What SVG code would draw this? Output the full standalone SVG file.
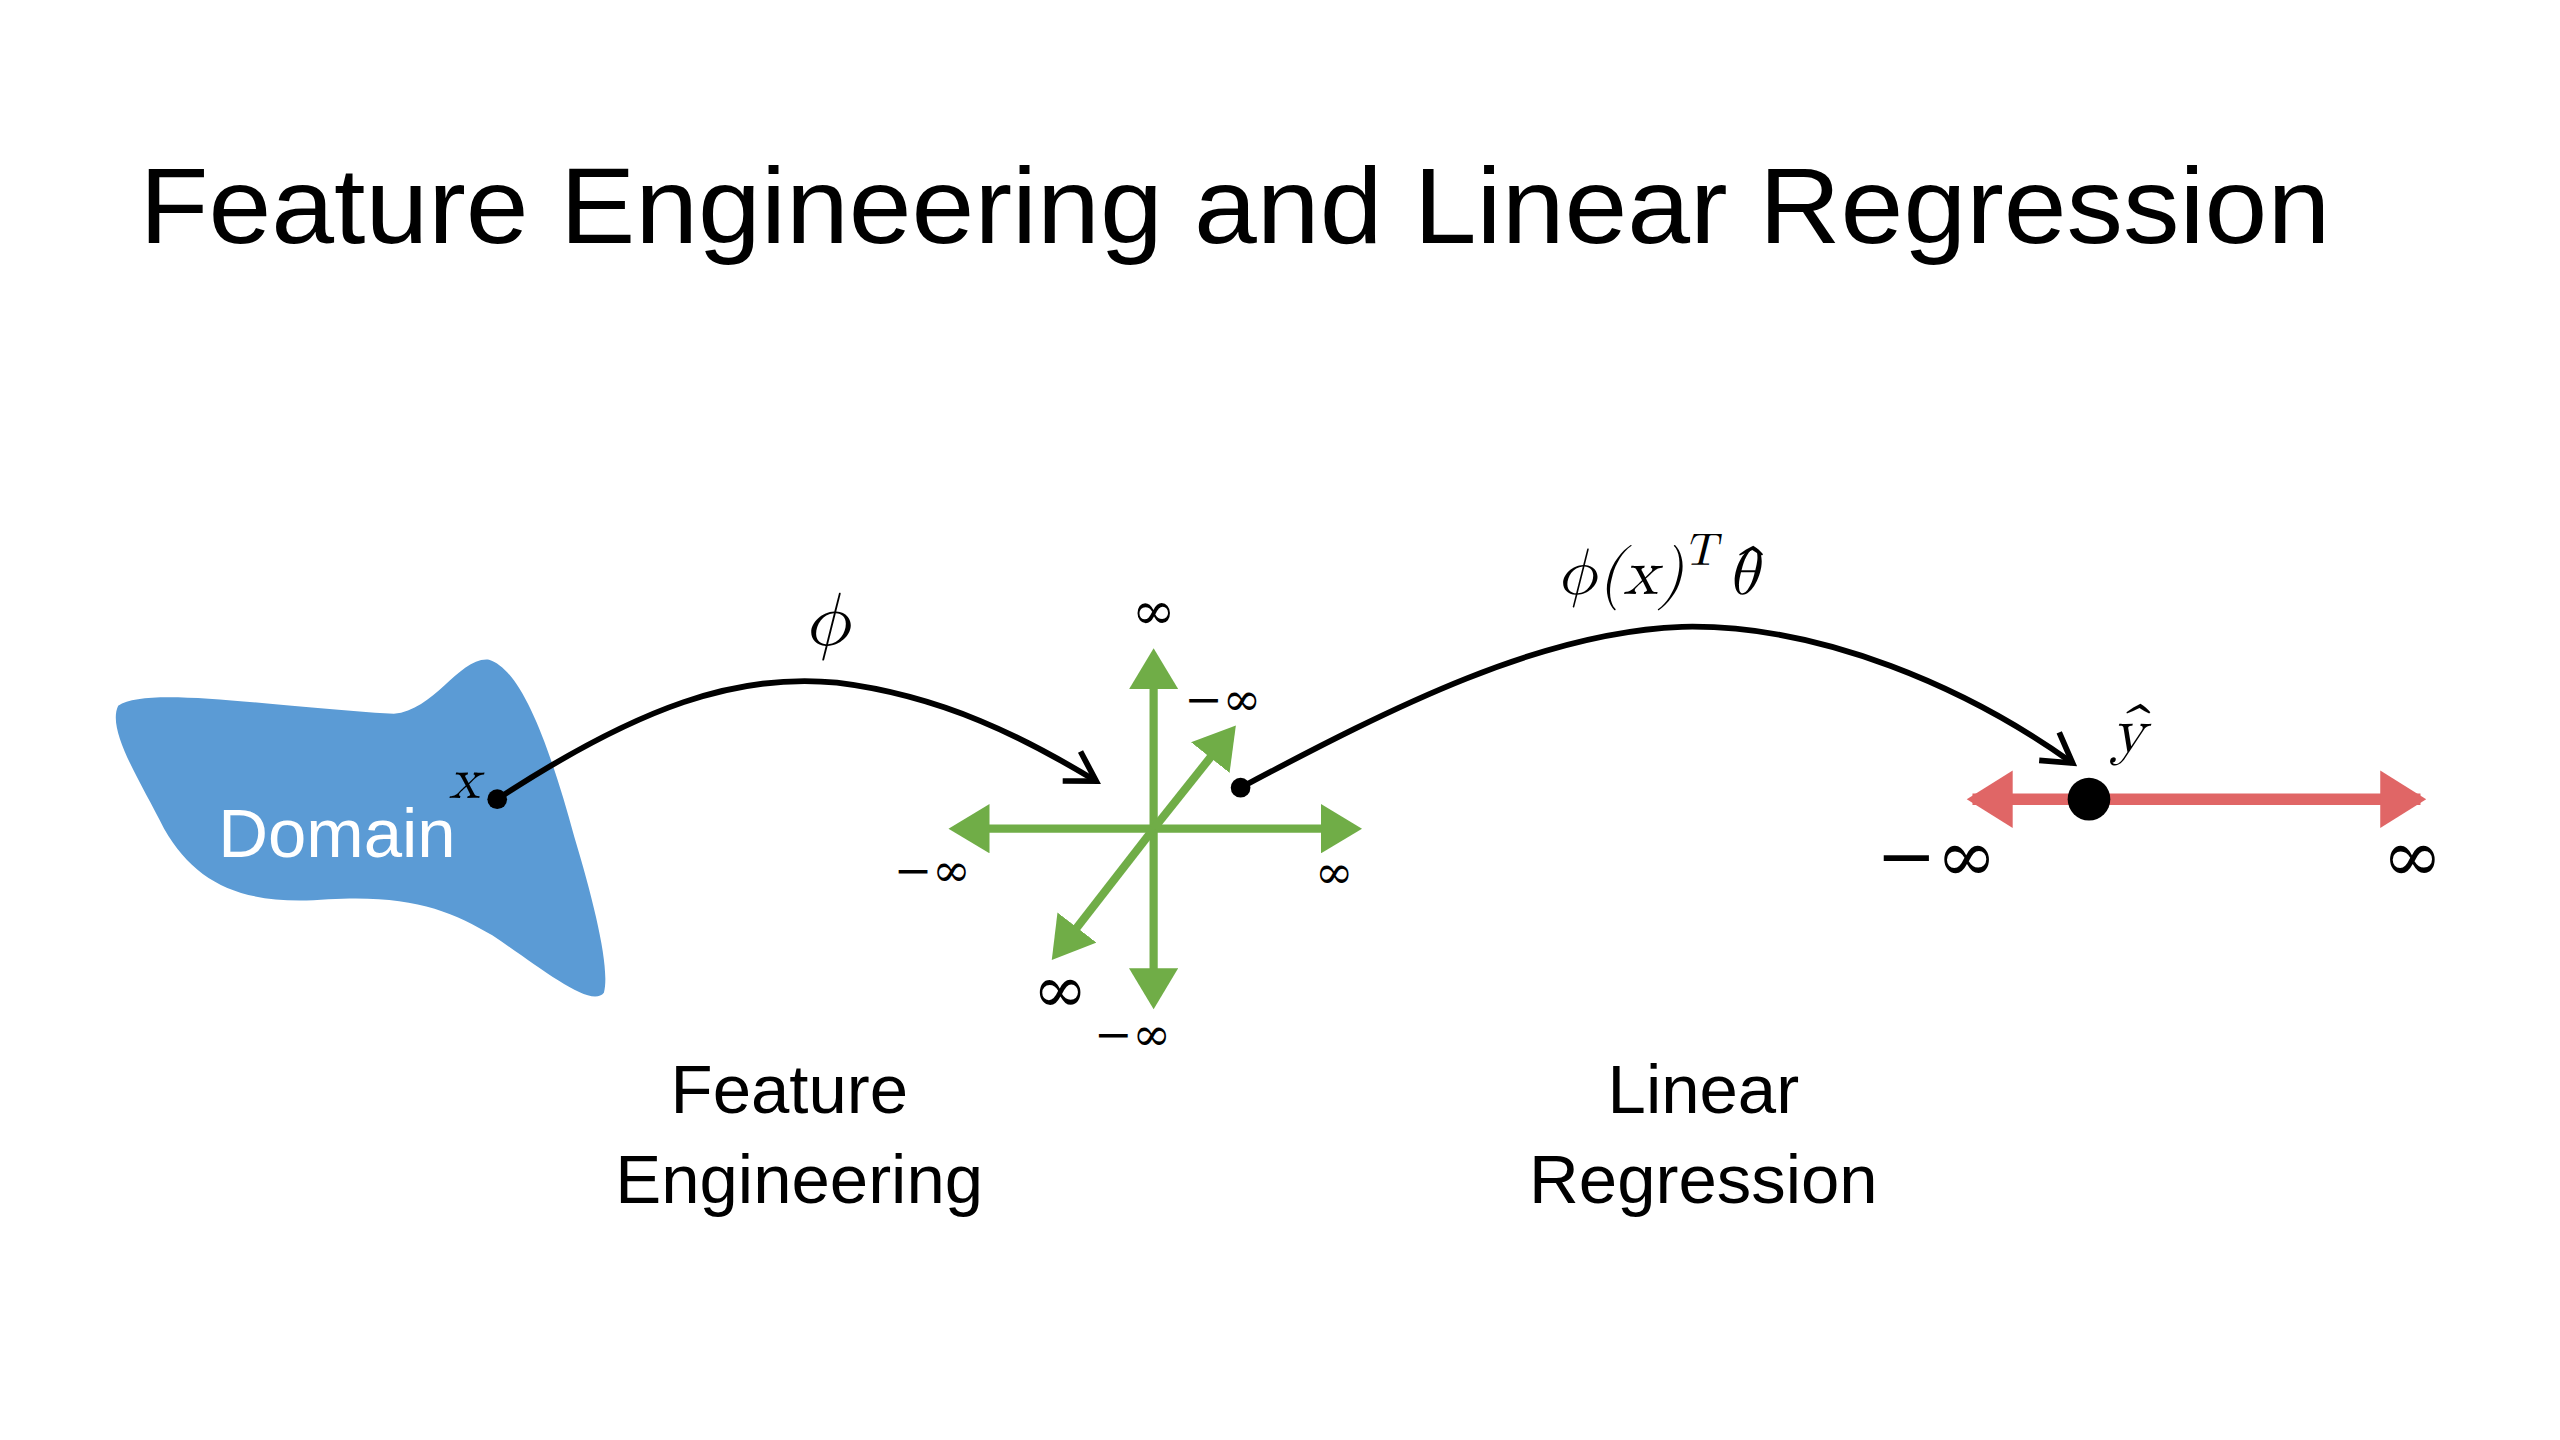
<svg xmlns="http://www.w3.org/2000/svg" width="2560" height="1440" viewBox="0 0 2560 1440">
<style>
.sans{font-family:"Century Gothic","URW Gothic","Liberation Sans",sans-serif;}
.math{font-family:"Latin Modern Math","DejaVu Serif","Liberation Serif",serif;font-style:italic;fill:#000;}
.inf{font-family:"DejaVu Serif","Liberation Serif",serif;fill:#000;}
.g{stroke:#70ad47;stroke-width:5;fill:none;marker-end:url(#ga);}
.c{stroke:#000;stroke-width:3.5;fill:none;marker-end:url(#ba);}
</style>
<defs>
<marker id="ga" markerWidth="6" markerHeight="6" refX="4" refY="3" orient="auto" markerUnits="strokeWidth"><path d="M0,0 L5,3 L0,6 Z" fill="#70ad47"/></marker>
<marker id="ba" markerWidth="8" markerHeight="8" refX="6" refY="4" orient="auto" markerUnits="strokeWidth"><path d="M1,1 L6,4 L1,7" fill="none" stroke="#000" stroke-width="1"/></marker>
<marker id="ra" markerWidth="5" markerHeight="5" refX="3.5" refY="2.5" orient="auto-start-reverse" markerUnits="strokeWidth"><path d="M0,0 L4,2.5 L0,5 Z" fill="#e06666"/></marker>
</defs>
<rect width="2560" height="1440" fill="#fff"/>
<g transform="scale(1.641)">
<text id="title" class="sans" x="85" y="148" font-size="66" textLength="1335" lengthAdjust="spacingAndGlyphs">Feature Engineering and Linear Regression</text>
<g id="domain">
<path d="M72,430 C90,418 160,430 240,435 C265,433 280,400 298,402 C318,408 335,455 350,510 C362,550 372,590 368,605 C360,615 330,590 300,570 C275,555 250,545 200,548 C150,552 120,540 100,505 C85,475 65,445 72,430 Z" fill="#5b9bd5"/>
<text class="sans" x="133" y="522" font-size="42" fill="#fff">Domain</text>
</g>
<g id="features">
<line class="g" x1="703" y1="505" x2="703" y2="400"/>
<line class="g" x1="703" y1="505" x2="703" y2="610"/>
<line class="g" x1="703" y1="505" x2="583" y2="505"/>
<line class="g" x1="703" y1="505" x2="825" y2="505"/>
<line class="g" x1="703" y1="505" x2="750" y2="446"/>
<line class="g" x1="703" y1="505" x2="644" y2="581"/>
<text class="inf" x="703" y="383" font-size="32" text-anchor="middle">∞</text>
<text class="inf" x="745" y="436" font-size="28" text-anchor="middle">−∞</text>
<text class="inf" x="568" y="540" font-size="28" text-anchor="middle">−∞</text>
<text class="inf" x="813" y="541" font-size="28" text-anchor="middle">∞</text>
<text class="inf" x="646" y="617" font-size="40" text-anchor="middle">∞</text>
<text class="inf" x="690" y="640" font-size="28" text-anchor="middle">−∞</text>
</g>
<g id="output">
<line x1="1202" y1="487" x2="1475" y2="487" stroke="#e06666" stroke-width="7" marker-start="url(#ra)" marker-end="url(#ra)"/>
<circle cx="1273" cy="487" r="13" fill="#000"/>
<text class="math" x="1297" y="458" font-size="40" text-anchor="middle">ŷ</text>
<text class="inf" x="1180" y="537" font-size="44" text-anchor="middle">−∞</text>
<text class="inf" x="1470" y="537" font-size="44" text-anchor="middle">∞</text>
</g>
<g id="connectors">
<path class="c" d="M303,487 C390,430 450,410 510,416 C575,424 625,450 668,476"/>
<circle cx="303" cy="487" r="6" fill="#000"/>
<path class="c" d="M756,480 C850,430 940,385 1025,382 C1110,380 1200,420 1263,465"/>
<circle cx="756" cy="480" r="6" fill="#000"/>
<text class="math" x="504" y="393" font-size="46" text-anchor="middle">ϕ</text>
<text class="math" x="283" y="486" font-size="36" text-anchor="middle">x</text>
<text class="math" x="948" y="362" font-size="40">ϕ(x)<tspan dy="-18" font-size="28">T</tspan><tspan dy="18" dx="6">θ̂</tspan></text>
</g>
<g id="labels" class="sans" font-size="42" text-anchor="middle">
<text x="481" y="678">Feature</text>
<text x="487" y="733">Engineering</text>
<text x="1038" y="678">Linear</text>
<text x="1038" y="733">Regression</text>
</g>
</g>
</svg>
